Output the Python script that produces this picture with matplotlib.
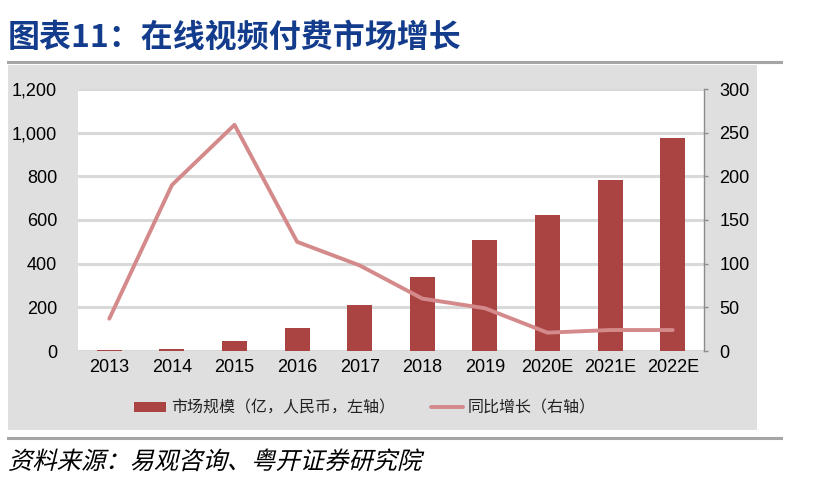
import matplotlib
matplotlib.use("Agg")
import matplotlib.pyplot as plt
import numpy as np
from matplotlib.patches import Rectangle
from matplotlib.lines import Line2D
from matplotlib.transforms import Affine2D
from matplotlib.patheffects import AbstractPathEffect
from matplotlib.ticker import FuncFormatter

plt.rcParams['font.family'] = ['Liberation Sans', 'Noto Sans CJK SC', 'DejaVu Sans']

# ---- data ----
years = ['2013', '2014', '2015', '2016', '2017', '2018', '2019', '2020E', '2021E', '2022E']
market_size = [3, 10, 48, 106, 210, 339, 510, 622, 781, 977]      # 亿元, left axis
yoy_growth = [37, 190, 259, 125, 98, 60, 49, 21, 24, 24]           # %, right axis
left_ticks = [0, 200, 400, 600, 800, 1000, 1200]
right_ticks = [0, 50, 100, 150, 200, 250, 300]
legend_labels = ['市场规模（亿，人民币，左轴）', '同比增长（右轴）']
title = '图表11：在线视频付费市场增长'
source = '资料来源：易观咨询、粤开证券研究院'

W, H = 816, 495
CJK = ['Noto Sans CJK SC', 'DejaVu Sans']


class Skew(AbstractPathEffect):
    def __init__(self, deg=14):
        super().__init__()
        self.deg = deg

    def draw_path(self, renderer, gc, tpath, affine, rgbFace=None):
        renderer.draw_path(gc, tpath, Affine2D().skew_deg(self.deg, 0) + affine, rgbFace)


fig = plt.figure(figsize=(W / 100, H / 100), dpi=100)
fig.patch.set_facecolor('white')

def fx(px):
    return px / W

def fy(py):
    return 1 - py / H

# gray panel
fig.patches.append(Rectangle((fx(8), fy(430)), fx(757) - fx(8), fy(65) - fy(430),
                             transform=fig.transFigure, facecolor='#DFDFDF',
                             edgecolor='none', zorder=-5))
# separator lines
for yy in (62, 438):
    fig.lines.append(Line2D([fx(8), fx(781)], [fy(yy), fy(yy)], transform=fig.transFigure,
                            color='#A6A6A6', lw=2.2, zorder=-4))

ax = fig.add_axes([fx(78), fy(351), fx(704) - fx(78), fy(89) - fy(351)])
ax.set_facecolor('white')
x = np.arange(len(years))
bars = ax.bar(x, market_size, width=0.4, color='#A94442', zorder=2,
              label=legend_labels[0])
ax.set_xlim(-0.5, len(years) - 0.5)
ax.set_ylim(0, 1200)
ax.set_yticks(left_ticks)
ax.yaxis.set_major_formatter(FuncFormatter(lambda v, p: f'{int(v):,}'))
ax.set_xticks(x)
ax.set_xticklabels(years)
ax.yaxis.grid(True, color='#D9D9D9', lw=2.2)
ax.set_axisbelow(True)
for s in ax.spines.values():
    s.set_visible(False)
ax.tick_params(axis='y', length=0, pad=15, labelsize=13, colors='black')
ax.tick_params(axis='x', length=0, pad=6, labelsize=13, colors='black')

ax2 = ax.twinx()
line, = ax2.plot(x, yoy_growth, color='#D48A8A', lw=2.8, solid_capstyle='round',
                 solid_joinstyle='round', zorder=3, label=legend_labels[1])
ax2.set_ylim(0, 300)
ax2.set_yticks(right_ticks)
for k, s in ax2.spines.items():
    s.set_visible(k == 'right')
ax2.spines['right'].set_color('#8C8C8C')
ax2.spines['right'].set_linewidth(1.0)
ax2.tick_params(axis='y', length=3, width=1.0, color='#8C8C8C', pad=8,
                labelsize=13, labelcolor='black', direction='out')

leg = fig.legend([bars, line], legend_labels, loc='center',
                 bbox_to_anchor=(fx(365), fy(408)), ncol=2, frameon=False,
                 prop={'family': CJK, 'size': 11.5}, handlelength=2.0,
                 handleheight=0.55, handletextpad=0.3, columnspacing=2.25)
for t in leg.get_texts():
    t.set_color('#222222')

fig.text(fx(8), fy(38), title, fontsize=23, fontweight='bold', color='#143C8C',
         va='center', ha='left', family=CJK)
fig.text(fx(8), fy(462), source, fontsize=17.5, color='black', va='center', ha='left',
         family=CJK, path_effects=[Skew(14)])

fig.savefig('out.png', dpi=100)
